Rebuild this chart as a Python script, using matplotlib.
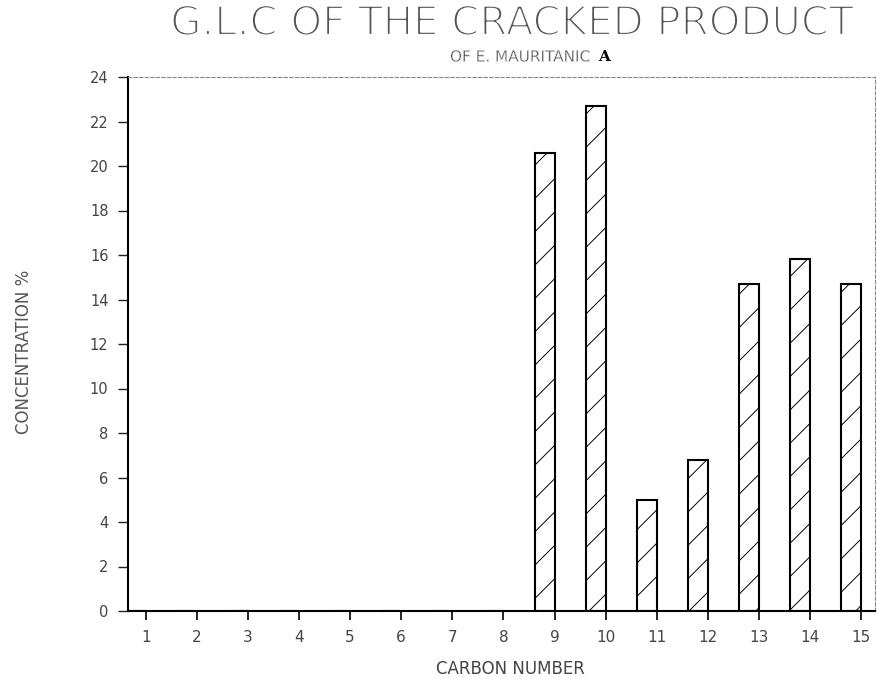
import matplotlib
matplotlib.use("Agg")
import matplotlib.pyplot as plt
import matplotlib.patheffects as pe

# Data
carbon_numbers = [1, 2, 3, 4, 5, 6, 7, 8, 9, 10, 11, 12, 13, 14, 15]
concentration = [0, 0, 0, 0, 0, 0, 0, 0, 20.6, 22.7, 5.0, 6.8, 14.7, 15.8, 14.7]
y_ticks = [0, 2, 4, 6, 8, 10, 12, 14, 16, 18, 20, 22, 24]
x_tick_labels = [str(c) for c in carbon_numbers]

title = "G.L.C OF THE CRACKED PRODUCT"
subtitle = "OF E. MAURITANIC"
subtitle_mark = "A"
x_label = "CARBON NUMBER"
y_label = "CONCENTRATION %"

plt.rcParams['font.family'] = ['DejaVu Sans']
plt.rcParams['hatch.linewidth'] = 0.7
plt.rcParams['hatch.color'] = '#555555'

W, H = 877, 679
fig = plt.figure(figsize=(W / 100, H / 100), dpi=100)
ax = fig.add_axes([128 / W, 1 - 611 / H, (875 - 128) / W, (611 - 77) / H])

ax.bar(carbon_numbers, concentration, width=-0.39, align='edge',
       facecolor='white', edgecolor='black', linewidth=1.5, hatch='/')

ax.set_xlim(0.654, 15.27)
ax.set_ylim(0, 24)
ax.set_xticks(carbon_numbers)
ax.set_xticklabels(x_tick_labels)
ax.set_yticks(y_ticks)
ax.set_yticklabels([str(v) for v in y_ticks])

ax.tick_params(axis='x', direction='out', length=6.5, width=1.2, pad=7,
               labelsize=11, colors='black')
ax.tick_params(axis='y', direction='out', length=7, width=1.0, pad=7,
               labelsize=10.5, colors='#222222')
for lab in ax.get_xticklabels() + ax.get_yticklabels():
    lab.set_color('#444444')

ax.spines['left'].set_linewidth(1.5)
ax.spines['bottom'].set_linewidth(1.5)
for s in ['top', 'right']:
    ax.spines[s].set_linewidth(0.8)
    ax.spines[s].set_linestyle((0, (3, 2)))
    ax.spines[s].set_color('#888888')

thin = [pe.Normal(), pe.Stroke(linewidth=1.6, foreground='white')]

# Titles and labels
fig.text(512 / W, 1 - 24 / H, title, ha='center', va='center',
         fontsize=29, color='#555555', path_effects=thin)
fig.text(590 / W, 1 - 57 / H, subtitle, ha='right', va='center',
         fontsize=11, color='#444444',
         path_effects=[pe.Normal(), pe.Stroke(linewidth=0.4, foreground='white')])
fig.text(604 / W, 1 - 57 / H, subtitle_mark, ha='center', va='center',
         fontsize=11, color='black', fontweight='bold', family='DejaVu Serif')
fig.text(510 / W, 1 - 669 / H, x_label, ha='center', va='center',
         fontsize=12, color='#444444')
fig.text(24 / W, 1 - 352 / H, y_label, ha='center', va='center',
         rotation=90, fontsize=12, color='#555555')

fig.savefig("out.png", dpi=100, facecolor='white')
